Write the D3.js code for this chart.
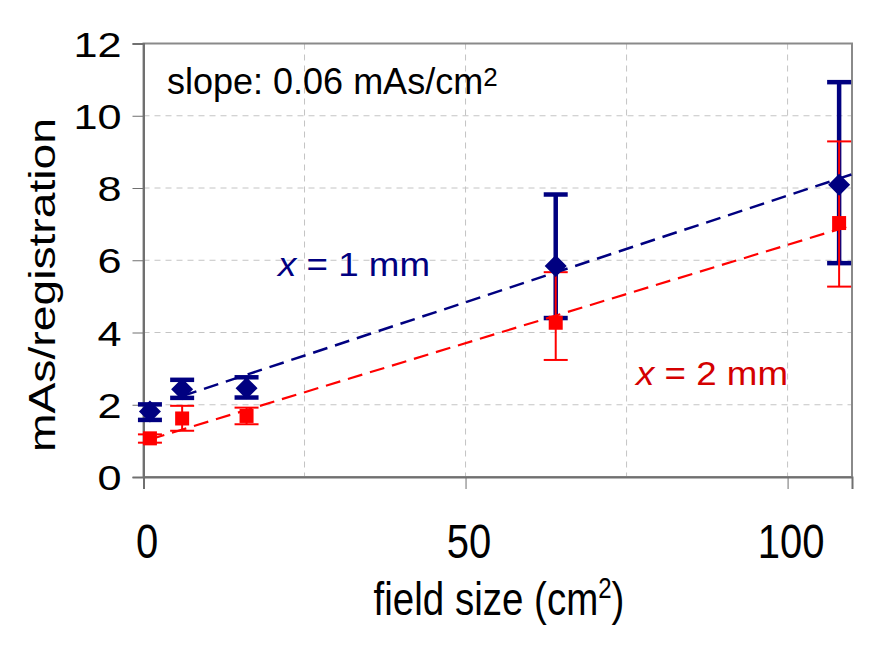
<!DOCTYPE html>
<html>
<head>
<meta charset="utf-8">
<script src="https://cdn.jsdelivr.net/npm/d3@7"></script>
<style>
  html, body { margin: 0; padding: 0; background: #fff; }
  svg { display: block; font-family: "Liberation Sans", Arial, sans-serif; }
</style>
</head>
<body>
<svg id="chart" width="874" height="646"></svg>
<script>
// ---- data ----
const fieldSize   = [1, 6, 16, 64, 108];
const mas1mm      = [1.81, 2.43, 2.46, 5.84, 8.09];
const mas1mmHigh  = [2.01, 2.69, 2.76, 7.82, 10.93];
const mas1mmLow   = [1.58, 2.19, 2.20, 4.40, 5.92];
const mas2mm      = [1.07, 1.62, 1.69, 4.27, 7.03];
const mas2mmHigh  = [1.18, 1.97, 1.92, 5.67, 9.29];
const mas2mmLow   = [0.95, 1.28, 1.46, 3.24, 5.27];
const trendX1mm   = [6, 110];
const trendY1mm   = [2.24, 8.38];
const trendX2mm   = [1, 110];
const trendY2mm   = [1.04, 6.97];
const xTickValues = [0, 50, 100];
const yTickValues = [0, 2, 4, 6, 8, 10, 12];
const xGridValues = [25, 50, 75, 100];
const yGridValues = [2, 4, 6, 8, 10];

// ---- layout ----
const pLeft = 143.5, pRight = 852, pTop = 43.5, pBottom = 477;
const svg = d3.select("#chart");
svg.append("rect").attr("width", 874).attr("height", 646).attr("fill", "#fff");

const x = d3.scaleLinear().domain([0, 110]).range([pLeft, pRight]);
const y = d3.scaleLinear().domain([0, 12]).range([pBottom, pTop]);

const navy = "#000080", red = "#ff0000";

// gridlines
const grid = svg.append("g").attr("stroke", "#c4c4c4").attr("stroke-width", 1)
  .attr("stroke-dasharray", "6,5");
grid.selectAll("line.v").data(xGridValues).join("line").attr("class", "v")
  .attr("x1", d => x(d)).attr("x2", d => x(d)).attr("y1", pTop).attr("y2", pBottom);
grid.selectAll("line.h").data(yGridValues).join("line").attr("class", "h")
  .attr("y1", d => y(d)).attr("y2", d => y(d)).attr("x1", pLeft).attr("x2", pRight);

// frame
svg.append("rect").attr("x", pLeft).attr("y", pTop)
  .attr("width", pRight - pLeft).attr("height", pBottom - pTop)
  .attr("fill", "none").attr("stroke", "#8a8a8a").attr("stroke-width", 2);

// axes
const yAxis = svg.append("g").attr("transform", `translate(${pLeft},0)`)
  .call(d3.axisLeft(y).tickValues(yTickValues).tickSize(11).tickFormat(d3.format("d")));
const xAxis = svg.append("g").attr("transform", `translate(0,${pBottom})`)
  .call(d3.axisBottom(x).tickValues(xTickValues).tickSize(12).tickFormat(d3.format("d")));
[yAxis, xAxis].forEach(a => {
  a.select(".domain").attr("stroke", "#707070").attr("stroke-width", 2);
  a.selectAll(".tick line").attr("stroke", "#707070").attr("stroke-width", 1);
});
yAxis.selectAll(".tick text")
  .attr("x", 0).attr("dy", "0.35em")
  .attr("font-size", 36).attr("fill", "#000")
  .attr("font-family", "Liberation Sans, Arial, sans-serif")
  .attr("text-anchor", "end")
  .attr("transform", "translate(-22,0) scale(1.2,1)");
xAxis.selectAll(".tick text")
  .attr("y", 0).attr("dy", 0)
  .attr("font-size", 40).attr("fill", "#000")
  .attr("font-family", "Liberation Sans, Arial, sans-serif")
  .attr("text-anchor", "middle")
  .attr("transform", "translate(3,81) scale(1,1.2)");

// error bars
function errorBars(xs, lo, hi, color, width, cap) {
  const g = svg.append("g").attr("stroke", color).attr("stroke-width", width);
  xs.forEach((xv, i) => {
    g.append("line").attr("x1", x(xv)).attr("x2", x(xv)).attr("y1", y(lo[i])).attr("y2", y(hi[i]));
    g.append("line").attr("x1", x(xv) - cap).attr("x2", x(xv) + cap).attr("y1", y(lo[i])).attr("y2", y(lo[i]));
    g.append("line").attr("x1", x(xv) - cap).attr("x2", x(xv) + cap).attr("y1", y(hi[i])).attr("y2", y(hi[i]));
  });
}
errorBars(fieldSize, mas1mmLow, mas1mmHigh, navy, 4.5, 12);
errorBars(fieldSize, mas2mmLow, mas2mmHigh, red, 2, 12);

// trend lines
const line = d3.line().x(d => x(d[0])).y(d => y(d[1]));
svg.append("path").datum(d3.zip(trendX1mm, trendY1mm)).attr("d", line)
  .attr("fill", "none").attr("stroke", navy).attr("stroke-width", 2.5).attr("stroke-dasharray", "15,8");
svg.append("path").datum(d3.zip(trendX2mm, trendY2mm)).attr("d", line)
  .attr("fill", "none").attr("stroke", red).attr("stroke-width", 2.2).attr("stroke-dasharray", "15,8");

// markers
const r = 11;
svg.append("g").selectAll("path").data(d3.zip(fieldSize, mas1mm)).join("path")
  .attr("transform", d => `translate(${x(d[0])},${y(d[1])})`)
  .attr("d", `M0,${-r}L${r},0L0,${r}L${-r},0Z`)
  .attr("fill", navy);
svg.append("g").selectAll("rect").data(d3.zip(fieldSize, mas2mm)).join("rect")
  .attr("x", d => x(d[0]) - 7).attr("y", d => y(d[1]) - 7)
  .attr("width", 14).attr("height", 14).attr("fill", red);

// annotations
const slope = svg.append("text").attr("x", 167).attr("y", 94)
  .attr("font-size", 36).attr("fill", "#000");
slope.append("tspan").text("slope: 0.06 mAs/cm");
slope.append("tspan").text("2").attr("font-size", 26).attr("dy", -8);

function label(xp, yp, num, color) {
  const t = svg.append("text").attr("transform", `translate(${xp},${yp}) scale(1.08,1)`)
    .attr("font-size", 34).attr("fill", color);
  t.append("tspan").text("x").attr("font-style", "italic");
  t.append("tspan").text(` = ${num} mm`);
}
label(278, 276, 1, navy);
label(636, 385, 2, "#d40000");

// axis titles
const xt = svg.append("text").attr("text-anchor", "middle")
  .attr("transform", "translate(499,615) scale(1,1.22)")
  .attr("font-size", 38.5).attr("fill", "#000");
xt.append("tspan").text("field size (cm");
xt.append("tspan").text("2").attr("font-size", 24).attr("dy", -14);
xt.append("tspan").text(")").attr("dy", 14);

svg.append("text").attr("text-anchor", "middle")
  .attr("transform", "translate(55,285) rotate(-90) scale(1.25,1)")
  .attr("font-size", 37).attr("fill", "#000")
  .text("mAs/registration");
</script>
</body>
</html>
